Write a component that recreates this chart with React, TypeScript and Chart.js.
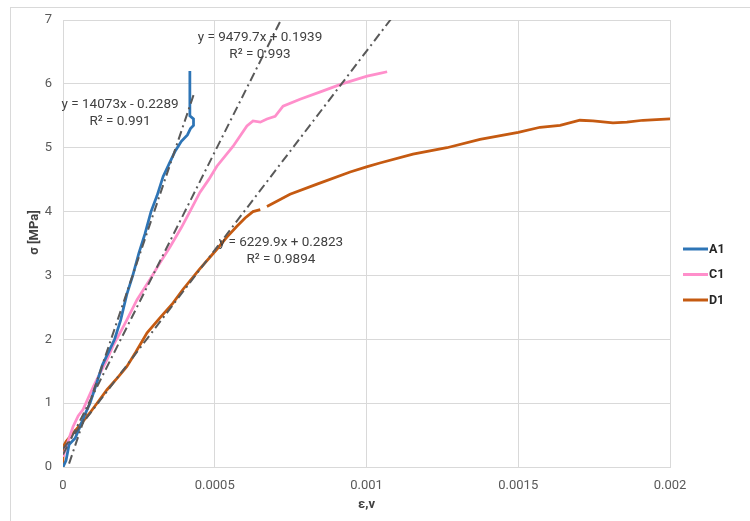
import React, { useEffect, useRef } from 'react';
import { Chart, registerables } from 'chart.js';
Chart.register(...registerables);

const seriesNames = ['A1', 'C1', 'D1'];
const seriesColors = ['#2E75B6', '#FF8FCB', '#C55A11'];

const a1Strain = [0, 0.00001, 0.00002, 0.00004, 0.000056, 0.00007, 0.000089, 0.00011, 0.00013, 0.00015, 0.00017, 0.00019, 0.00021, 0.00023, 0.00025, 0.00027, 0.00029, 0.00031, 0.00033, 0.00035, 0.00037, 0.00039, 0.00041, 0.00042, 0.00043, 0.00043, 0.000418, 0.000418];
const a1Stress = [0, 0.1, 0.35, 0.45, 0.63, 0.8, 1.0, 1.3, 1.6, 1.8, 2.0, 2.3, 2.7, 3.0, 3.35, 3.65, 4.0, 4.25, 4.55, 4.75, 4.95, 5.1, 5.2, 5.3, 5.35, 5.45, 5.5, 6.2];

const c1Strain = [0, 0.00001, 0.00002, 0.000033, 0.00005, 0.000066, 0.00008, 0.0001, 0.00012, 0.000145, 0.000165, 0.000188, 0.00021, 0.000244, 0.000287, 0.00032, 0.000353, 0.00039, 0.000418, 0.000451, 0.00048, 0.000507, 0.00056, 0.000606, 0.000626, 0.00065, 0.000672, 0.000699, 0.000725, 0.000781, 0.000857, 0.000919, 0.001002, 0.00104, 0.001068];
const c1Stress = [0.16, 0.3, 0.45, 0.63, 0.8, 0.9, 1.05, 1.26, 1.45, 1.68, 1.9, 2.1, 2.3, 2.62, 2.94, 3.2, 3.45, 3.75, 4.0, 4.3, 4.5, 4.71, 5.02, 5.34, 5.42, 5.4, 5.45, 5.49, 5.65, 5.76, 5.89, 6.0, 6.12, 6.16, 6.19];

const d1Strain = [0, 0, 0.00001, 0.000033, 0.00006, 0.000089, 0.00012, 0.000145, 0.00018, 0.00021, 0.00024, 0.000277, 0.00032, 0.000363, 0.000395, 0.00045, 0.000507, 0.00054, 0.000573, 0.0006, 0.000626, 0.00065, 0.00066, 0.000672, 0.000748, 0.000837, 0.000946, 0.001, 0.001044, 0.001153, 0.001265, 0.001374, 0.0015, 0.001572, 0.001638, 0.001703, 0.001746, 0.001812, 0.001858, 0.001911, 0.002];
const d1Stress = [0, 0.31, 0.4, 0.53, 0.68, 0.85, 1.05, 1.21, 1.4, 1.57, 1.8, 2.1, 2.34, 2.57, 2.78, 3.1, 3.41, 3.6, 3.77, 3.9, 4.0, 4.03, null, 4.08, 4.27, 4.43, 4.62, 4.7, 4.76, 4.9, 5.0, 5.13, 5.24, 5.32, 5.35, 5.43, 5.42, 5.39, 5.4, 5.43, 5.45];

const trendSlopes = [14073, 9479.7, 6229.9];
const trendIntercepts = [-0.2289, 0.1939, 0.2823];
const trendR2 = ['0.991', '0.993', '0.9894'];
const trendXEnd = [0.00043, 0.001068, 0.002];
const trendLabelX = [0.000188, 0.000649, 0.000718];
const trendLabelY = [5.68, 6.72, 3.51];

const xTicks = [0, 0.0005, 0.001, 0.0015, 0.002];
const yTicks = [0, 1, 2, 3, 4, 5, 6, 7];

const xTitle = 'ε,v';
const yTitle = 'σ [MPa]';

const FONT = 'Roboto';

function pts(xs: number[], ys: (number | null)[]) {
  return xs.map((x, i) => ({ x, y: ys[i] }));
}

function eqText(i: number) {
  const b = trendIntercepts[i];
  return `y = ${trendSlopes[i]}x ${b < 0 ? '-' : '+'} ${Math.abs(b).toFixed(4)}`;
}

const bgPlugin = {
  id: 'bgBorder',
  beforeDraw(chart: any) {
    const { ctx, width, height } = chart;
    ctx.save();
    ctx.fillStyle = '#ffffff';
    ctx.fillRect(0, 0, width, height);
    ctx.strokeStyle = '#d9d9d9';
    ctx.lineWidth = 1;
    ctx.strokeRect(10.5, 7.5, width + 20, height + 20);
    ctx.restore();
  },
};

const trendLabelPlugin = {
  id: 'trendLabels',
  afterDatasetsDraw(chart: any) {
    const { ctx, scales } = chart;
    ctx.save();
    ctx.font = `13.5px ${FONT}`;
    ctx.fillStyle = '#404040';
    ctx.textAlign = 'center';
    ctx.textBaseline = 'middle';
    for (let i = 0; i < trendSlopes.length; i++) {
      const px = scales.x.getPixelForValue(trendLabelX[i]);
      const py = scales.y.getPixelForValue(trendLabelY[i]);
      ctx.fillText(eqText(i), px, py);
      ctx.fillText(`R² = ${trendR2[i]}`, px, py + 17);
    }
    ctx.restore();
  },
};

const yTitlePlugin = {
  id: 'yTitle',
  afterDraw(chart: any) {
    const { ctx, chartArea } = chart;
    ctx.save();
    ctx.font = `bold 13px ${FONT}`;
    ctx.fillStyle = '#404040';
    ctx.textAlign = 'center';
    ctx.textBaseline = 'middle';
    ctx.translate(chartArea.left - 28, (chartArea.top + chartArea.bottom) / 2 - 11);
    ctx.rotate(-Math.PI / 2);
    ctx.fillText(yTitle, 0, 0);
    ctx.restore();
  },
};

const legendPlugin = {
  id: 'customLegend',
  afterDraw(chart: any) {
    const { ctx, chartArea } = chart;
    ctx.save();
    ctx.font = `bold 12.5px ${FONT}`;
    ctx.textBaseline = 'middle';
    ctx.textAlign = 'left';
    const x0 = chartArea.right + 13;
    const y0 = chartArea.top + 229;
    seriesNames.forEach((name, i) => {
      const y = y0 + i * 25.5;
      ctx.strokeStyle = seriesColors[i];
      ctx.lineWidth = 3;
      ctx.beginPath();
      ctx.moveTo(x0, y);
      ctx.lineTo(x0 + 25, y);
      ctx.stroke();
      ctx.fillStyle = '#262626';
      ctx.fillText(name, x0 + 26, y + 0.5);
    });
    ctx.restore();
  },
};

export default function App() {
  const ref = useRef<HTMLCanvasElement>(null);
  useEffect(() => {
    const canvas = ref.current;
    if (!canvas) return;
    const dataSets: any[] = [];
    const seriesPts = [pts(a1Strain, a1Stress), pts(c1Strain, c1Stress), pts(d1Strain, d1Stress)];
    seriesPts.forEach((d, i) => {
      dataSets.push({
        label: seriesNames[i],
        data: d,
        showLine: true,
        borderColor: seriesColors[i],
        backgroundColor: seriesColors[i],
        borderWidth: 2.75,
        pointRadius: 0,
        spanGaps: false,
        order: 1 + i,
      });
    });
    trendSlopes.forEach((m, i) => {
      dataSets.push({
        label: 'trend' + i,
        data: [0, trendXEnd[i]].map((x) => ({ x, y: m * x + trendIntercepts[i] })),
        showLine: true,
        borderColor: '#595959',
        borderWidth: 2,
        borderDash: [9, 4, 2, 4],
        pointRadius: 0,
        order: 0,
      });
    });

    const chart = new Chart(canvas, {
      type: 'scatter',
      data: { datasets: dataSets },
      options: {
        animation: false,
        responsive: false,
        devicePixelRatio: 1,
        layout: { padding: { top: 20, left: 0, right: 80, bottom: 0 } },
        plugins: { legend: { display: false }, tooltip: { enabled: false } },
        scales: {
          x: {
            type: 'linear',
            min: 0,
            max: 0.002,
            afterBuildTicks: (s: any) => { s.ticks = xTicks.map((v) => ({ value: v })); },
            afterFit: (s: any) => { s.height = 54; },
            grid: { color: '#d9d9d9', drawTicks: false },
            border: { color: '#d9d9d9' },
            ticks: {
              padding: 11,
              color: '#595959',
              font: { family: FONT, size: 13 },
              maxRotation: 0,
              callback: (v: any) => String(v),
            },
            title: { display: true, text: xTitle, color: '#404040', font: { family: FONT, size: 13, weight: 'bold' }, padding: { top: 0, bottom: 8 } },
          },
          y: {
            type: 'linear',
            min: 0,
            max: 7,
            afterBuildTicks: (s: any) => { s.ticks = yTicks.map((v) => ({ value: v })); },
            afterFit: (s: any) => { s.width = 63; },
            grid: { color: '#d9d9d9', drawTicks: false },
            border: { color: '#d9d9d9' },
            ticks: { padding: 11, color: '#595959', font: { family: FONT, size: 13 } },
            title: { display: false },
          },
        },
      },
      plugins: [bgPlugin, trendLabelPlugin, yTitlePlugin, legendPlugin],
    } as any);
    return () => chart.destroy();
  }, []);
  return (
    <div style={{ position: 'absolute', left: 0, top: 0, width: 750, height: 521 }}>
      <canvas ref={ref} width={750} height={521} style={{ display: 'block' }} />
    </div>
  );
}
